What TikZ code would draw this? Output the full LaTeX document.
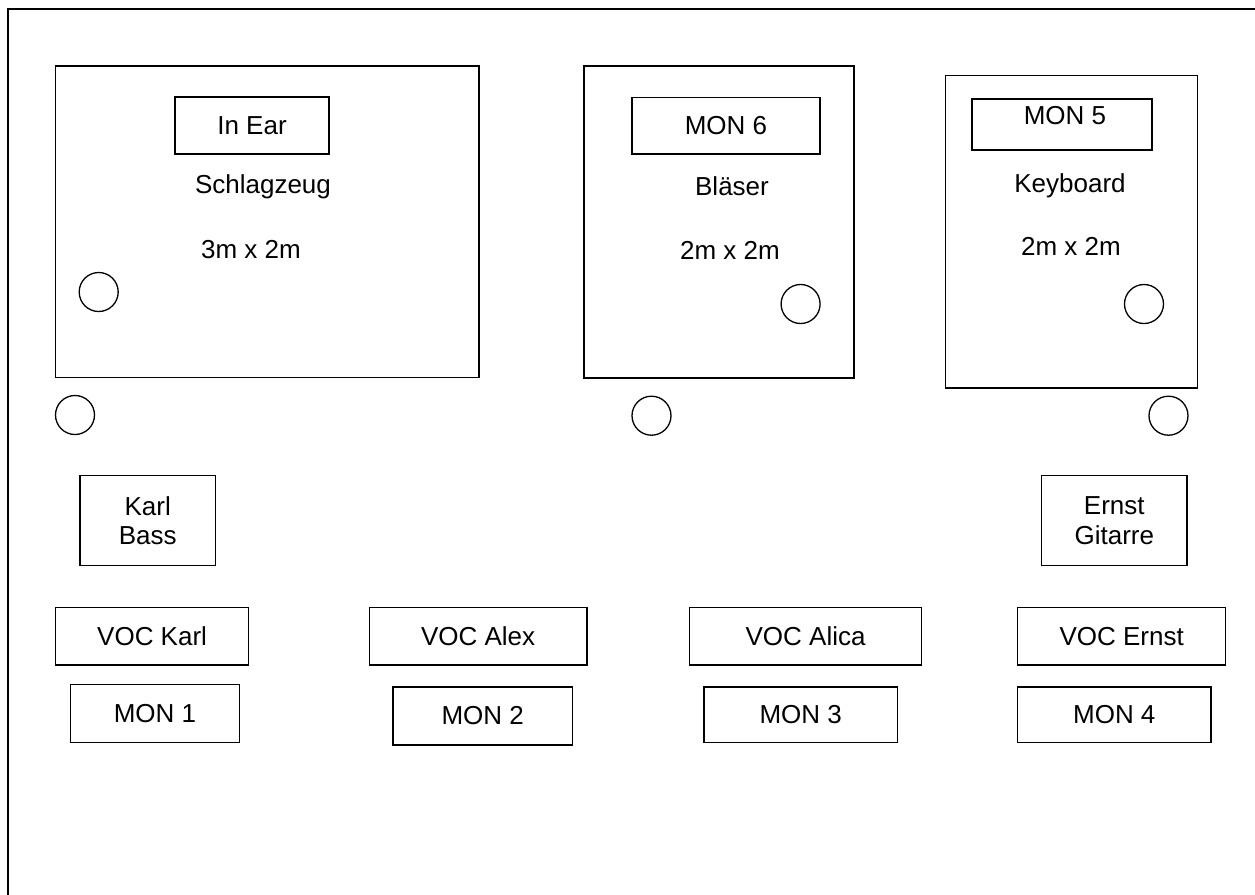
\documentclass[tikz,border=0pt]{standalone}
\usepackage{fontspec}
\setmainfont{Liberation Sans}
\begin{document}
\begin{tikzpicture}[x=0.5pt,y=-0.5pt,
  every node/.style={font=\fontsize{13}{14.7}\selectfont},
  sz/.style 2 args={minimum width={#1*0.5pt},minimum height={#2*0.5pt}},
  box/.style={draw, line width=0.65pt, inner sep=0pt, align=center},
  thickbox/.style={draw, line width=1pt, inner sep=0pt},
  txt/.style={inner sep=0pt, align=center},
  spk/.style={draw, circle, line width=0.65pt, inner sep=0pt, minimum size=19.5pt}]
\useasboundingbox (0,0) rectangle (1255,895);
% stage frame (left and top edges)
\coordinate (fbl) at (8,895);
\coordinate (ftl) at (8,9);
\coordinate (ftr) at (1255,9);
\draw[line width=1pt] (fbl) -- (ftl) -- (ftr);

% Schlagzeug riser
\node[box, sz={423.3}{311.7}] (drums) at (267.3,221.9) {};
\node[box, sz={154}{57}] (inear) at (252,125.5) {In Ear};
\node[txt] (drumslbl) at (263,187) {Schlagzeug};
\node[txt] (drumssize) at (251,250) {3m x 2m};
\node[spk] (c1) at (98.7,292) {};
\node[spk] (c2) at (75,415) {};

% Blaeser riser
\node[box, sz={270}{312}] (brass) at (719.1,221.9) {};
\node[box, sz={188}{56.7}] (mon6) at (726,125.7) {MON 6};
\node[txt] (brasslbl) at (732,186.7) {Bläser};
\node[txt] (brasssize) at (730,250) {2m x 2m};
\node[spk] (c3) at (800.6,304) {};
\node[spk] (c4) at (651.5,415.7) {};

% Keyboard riser
\node[box, sz={251.5}{312.3}] (keys) at (1071.5,231.9) {};
\node[thickbox, sz={180.6}{51}] (mon5) at (1062,124.5) {};
\node[txt] (mon5lbl) at (1065,116) {MON 5};
\node[txt] (keyslbl) at (1070,185.7) {Keyboard};
\node[txt] (keyssize) at (1071,246.7) {2m x 2m};
\node[spk] (c5) at (1144,304) {};
\node[spk] (c6) at (1168.5,415.7) {};

% amps
\node[box, sz={135.4}{89.6}] (bass) at (147.7,520.5) {Karl\\Bass};
\node[box, sz={145.3}{89.6}] (guitar) at (1114.3,520.5) {Ernst\\Gitarre};

% vocals
\node[box, sz={193.4}{57.7}] (vkarl) at (152.1,636.2) {VOC Karl};
\node[box, sz={217.8}{57.7}] (valex) at (478.1,636.2) {VOC Alex};
\node[box, sz={231.7}{57.7}] (valica) at (805.6,636.2) {VOC Alica};
\node[box, sz={208.1}{57.7}] (vernst) at (1121.7,636.2) {VOC Ernst};

% monitors
\node[box, sz={169.2}{58}] (mon1) at (155,713.3) {MON 1};
\node[box, sz={179.3}{58}] (mon2) at (482.7,716) {MON 2};
\node[box, sz={193.5}{55.3}] (mon3) at (800.7,714.7) {MON 3};
\node[box, sz={193.4}{55.3}] (mon4) at (1114.3,714.7) {MON 4};
\end{tikzpicture}
\end{document}
